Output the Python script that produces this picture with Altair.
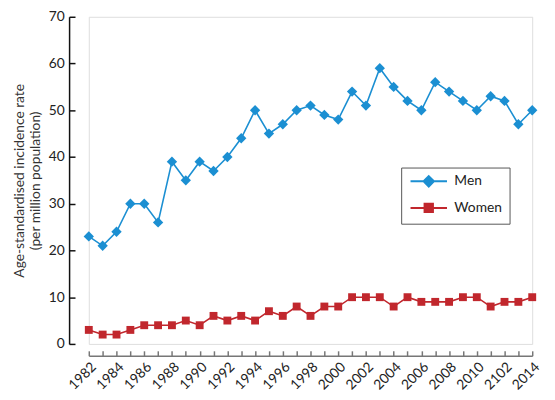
import json
import altair as alt
import pandas as pd

# ---- data ----
years = list(range(1982, 2015))
men = [23, 21, 24, 30, 30, 26, 39, 35, 39, 37, 40, 44, 50, 45, 47, 50, 51, 49, 48, 54,
       51, 59, 55, 52, 50, 56, 54, 52, 50, 53, 52, 47, 50]
women = [3, 2, 2, 3, 4, 4, 4, 5, 4, 6, 5, 6, 5, 7, 6, 8, 6, 8, 8, 10,
         10, 10, 8, 10, 9, 9, 9, 10, 10, 8, 9, 9, 10]
series_names = ["Men", "Women"]
label_years = years[::2]
tick_labels = ["1982", "1984", "1986", "1988", "1990", "1992", "1994", "1996", "1998",
               "2000", "2002", "2004", "2006", "2008", "2010", "2102", "2014"]
y_ticks = [0, 10, 20, 30, 40, 50, 60, 70]
y_title = ["Age-standardised incidence rate", "(per million population)"]

# ---- styles ----
BLUE = "#1b8fd2"
RED = "#c1272d"
FONT = "Lato"
colors = [BLUE, RED]
legend_paths = [
    "M-3.7,0H3.7M0,-1.05L1.05,0L0,1.05L-1.05,0Z",
    "M-3.7,0H3.7M-0.85,-0.85H0.85V0.85H-0.85Z",
]

df = pd.DataFrame({
    "year": years * 2,
    "value": men + women,
    "series": ["Men"] * len(years) + ["Women"] * len(years),
})

label_expr = f"{json.dumps(tick_labels)}[round((datum.value - 1982) / 2)]"

x_scale = alt.Scale(domain=[1982, 2014], nice=False, zero=False)
y_scale = alt.Scale(domain=[0, 70], nice=False)
# colour domain left data-driven (Men, Women sorted) so its hidden legend is not merged
color_scale = alt.Scale(range=colors)

x_axis_main = alt.Axis(orient="bottom", offset=12, values=label_years, labelExpr=label_expr,
                       labelAngle=-45, labelAlign="right", labelBaseline="top", labelPadding=4,
                       labelOverlap=False, labelFlush=False,
                       ticks=False, tickSize=0, domainColor="#777777", domainWidth=1.5,
                       grid=False, title=None, labelFont=FONT, labelFontSize=14,
                       labelColor="#222222")
x_axis_ticks = alt.Axis(orient="bottom", offset=7, values=years, ticks=True, tickSize=5,
                        tickColor="#777777", tickWidth=1.5, domain=False, labels=False,
                        grid=False, title=None)
y_axis_main = alt.Axis(orient="left", offset=20, values=y_ticks, ticks=False, tickSize=0,
                       domainColor="#111111", domainWidth=1.5, labelPadding=5, grid=False,
                       labelOverlap=False, labelFlush=False,
                       title=y_title, titleFont=FONT, titleFontSize=14, titleFontWeight="normal",
                       titleColor="#333333", titlePadding=6, titleLineHeight=16,
                       labelFont=FONT, labelFontSize=14, labelColor="#222222")
y_axis_ticks = alt.Axis(orient="left", offset=14, values=y_ticks, ticks=True, tickSize=6,
                        tickColor="#111111", tickWidth=1.5, domain=False, labels=False,
                        grid=False, title=None)

base = alt.Chart(df)

lines = base.mark_line(strokeWidth=1.6).encode(
    x=alt.X("year:Q", scale=x_scale, axis=x_axis_main),
    y=alt.Y("value:Q", scale=y_scale, axis=y_axis_main),
    color=alt.Color("series:N", scale=color_scale, legend=None),
)

men_pts = base.transform_filter("datum.series == 'Men'").mark_point(
    shape="diamond", filled=True, size=110, opacity=1
).encode(
    x=alt.X("year:Q", scale=x_scale, axis=x_axis_ticks),
    y=alt.Y("value:Q", scale=y_scale, axis=y_axis_ticks),
    color=alt.Color("series:N", scale=color_scale, legend=None),
)

women_pts = base.transform_filter("datum.series == 'Women'").mark_point(
    shape="square", filled=True, size=64, opacity=1
).encode(
    x=alt.X("year:Q", scale=x_scale, axis=None),
    y=alt.Y("value:Q", scale=y_scale, axis=None),
    color=alt.Color("series:N", scale=color_scale, legend=None),
)

leg = alt.Legend(title=None, orient="none", legendX=317, legendY=153, padding=7,
                 strokeColor="#555555", fillColor="white", symbolSize=100,
                 symbolStrokeWidth=2, symbolOffset=14, labelOffset=19, rowPadding=8,
                 labelFont=FONT, labelFontSize=14, labelColor="#222222",
                 labelExpr="datum.label + '" + "\u00a0" * 10 + "'")

# empty layer whose only job is to supply the legend (line + marker symbols)
legend_layer = base.transform_filter("false").mark_point(filled=True, opacity=1).encode(
    fill=alt.Fill("series:N", scale=alt.Scale(domain=series_names, range=colors), legend=leg),
    stroke=alt.Stroke("series:N", scale=alt.Scale(domain=series_names, range=colors), legend=leg),
    shape=alt.Shape("series:N", scale=alt.Scale(domain=series_names, range=legend_paths), legend=leg),
)

chart = alt.layer(lines, men_pts, women_pts, legend_layer).resolve_axis(
    x="independent", y="independent"
).properties(
    width=450, height=332,
    padding={"left": 82, "top": 6, "right": 15, "bottom": 54},
    autosize=alt.AutoSizeParams(type="none"),
    background="white",
).configure_view(stroke=None).configure(font=FONT)

chart.save("out.html", embed_options={"renderer": "svg", "actions": False})
